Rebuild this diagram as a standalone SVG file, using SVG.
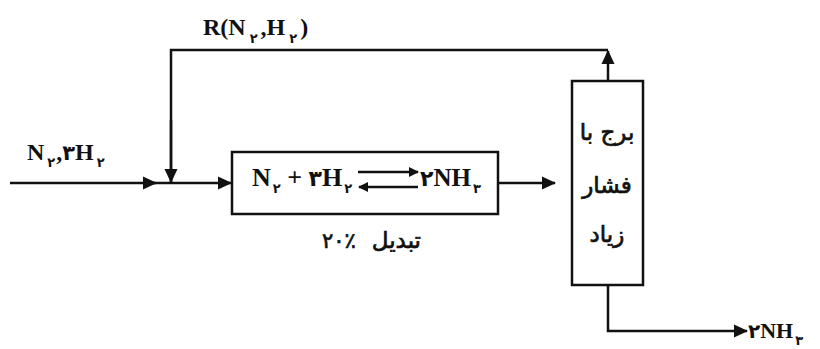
<svg xmlns="http://www.w3.org/2000/svg" width="820" height="349" viewBox="0 0 820 349">
<style>
.ln{fill:none;stroke:#111;stroke-width:2.5}
.box{fill:#fff;stroke:#111;stroke-width:2.5}
.lat{font-family:"Liberation Serif","DejaVu Sans",serif;font-weight:bold;fill:#111}
.fa{font-family:"DejaVu Sans",sans-serif;font-weight:normal;fill:#111;stroke:#111;stroke-width:0.7}
.dig{font-family:"DejaVu Sans",sans-serif;font-weight:bold}
.sub{font-family:"DejaVu Sans",sans-serif;font-weight:bold;font-size:13px}
</style>
<defs>
<marker id="ah" markerWidth="10" markerHeight="10" refX="9" refY="5" orient="auto" markerUnits="userSpaceOnUse" viewBox="0 0 10 10">
<path d="M0,0 L10,5 L0,10 Z" fill="#111"/>
</marker>
<marker id="ahb" markerWidth="14" markerHeight="14" refX="13" refY="7" orient="auto" markerUnits="userSpaceOnUse" viewBox="0 0 14 14">
<path d="M0,0.5 L14,7 L0,13.5 Z" fill="#111"/>
</marker>
</defs>
<g id="connectors">
<line class="ln" x1="10" y1="183" x2="156" y2="183" marker-end="url(#ahb)"/>
<line class="ln" x1="150" y1="183" x2="231" y2="183" marker-end="url(#ahb)"/>
<polyline class="ln" points="171,183 171,50 608,50"/>
<line class="ln" x1="171" y1="120" x2="171" y2="182" marker-end="url(#ahb)"/>
<line class="ln" x1="608" y1="81" x2="608" y2="51" marker-end="url(#ahb)"/>
<line class="ln" x1="498" y1="183" x2="555" y2="183" marker-end="url(#ahb)"/>
<polyline class="ln" points="608,286 608,331 747,331" marker-end="url(#ahb)"/>
</g>
<g id="reactor">
<rect class="box" x="232" y="152" width="266" height="62"/>
<text class="lat" x="252" y="186" font-size="26">N<tspan class="sub" dx="2" dy="7">۲</tspan><tspan dy="-7"> + </tspan><tspan class="dig" font-size="22">۳</tspan>H<tspan class="sub" dx="2" dy="7">۲</tspan></text>
<line class="ln" x1="358" y1="172" x2="418" y2="172" stroke-width="3" marker-end="url(#ah)"/>
<line class="ln" x1="418" y1="187" x2="359" y2="187" stroke-width="3" marker-end="url(#ah)"/>
<text class="lat" x="420" y="186" font-size="25"><tspan class="dig" font-size="22">۲</tspan>NH<tspan class="sub" dx="2" dy="7">۳</tspan></text>
<text class="fa" x="322" y="248" font-size="21">۲۰٪</text>
<text class="fa" x="421" y="248" font-size="23" text-anchor="end">تبدیل</text>
</g>
<g id="tower">
<rect class="box" x="572" y="81" width="71" height="204"/>
<text class="fa" x="607" y="140" font-size="23" text-anchor="middle" direction="rtl">برج با</text>
<text class="fa" x="607" y="193" font-size="23" text-anchor="middle" direction="rtl">فشار</text>
<text class="fa" x="607" y="242" font-size="23" text-anchor="middle" direction="rtl">زیاد</text>
</g>
<g id="labels">
<text class="lat" x="203" y="35" font-size="24">R(N<tspan class="sub" dx="4" dy="8">۲</tspan><tspan dx="3" dy="-8">,H</tspan><tspan class="sub" dx="4" dy="8">۲</tspan><tspan dx="3" dy="-8">)</tspan></text>
<text class="lat" x="27" y="160" font-size="24">N<tspan class="sub" dx="3" dy="7">۲</tspan><tspan dx="1" dy="-7">,</tspan><tspan class="dig" font-size="21">۳</tspan>H<tspan class="sub" dx="3" dy="7">۲</tspan></text>
<text class="lat" x="748" y="338" font-size="22"><tspan class="dig" font-size="20">۲</tspan>NH<tspan class="sub" dx="2" dy="7">۳</tspan></text>
</g>
</svg>
